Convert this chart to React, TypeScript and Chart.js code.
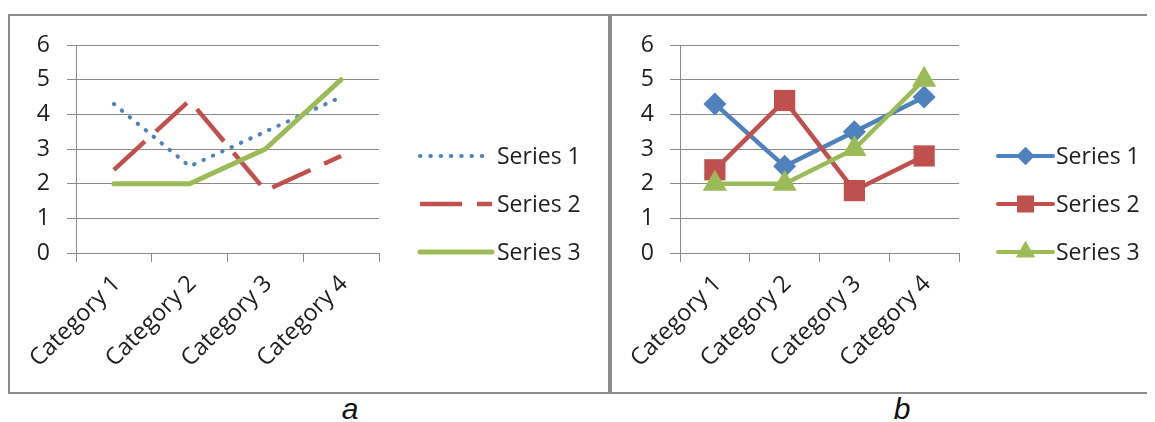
import React, { useEffect, useRef } from 'react';
import { Chart, registerables } from 'chart.js';
import { drawPoint } from 'chart.js/helpers';

Chart.register(...registerables);

// ---- data ----
const categories = ['Category 1', 'Category 2', 'Category 3', 'Category 4'];
const seriesNames = ['Series 1', 'Series 2', 'Series 3'];
const series1 = [4.3, 2.5, 3.5, 4.5];
const series2 = [2.4, 4.4, 1.8, 2.8];
const series3 = [2, 2, 3, 5];
const yTicks = [0, 1, 2, 3, 4, 5, 6];
const panelLabels = ['a', 'b'];

// ---- styles ----
const FONT = '"Open Sans", sans-serif';
const GRID = '#8a8a8a';
const TEXT = '#1e1e1e';
const BLUE = '#4F81BD';
const RED = '#C0504D';
const GREEN = '#9BBB59';
const FRAME = '#8c8c8c';

const legendPlugin = {
  id: 'customLegend',
  afterDraw(chart: any, _args: any, opts: any) {
    const { ctx, chartArea } = chart;
    const x0 = chartArea.right + opts.offsetX;
    const fontSize = opts.fontSize;
    chart.data.datasets.forEach((ds: any, i: number) => {
      const y = chart.height / 2 + (i - 1) * opts.spacing;
      ctx.save();
      ctx.strokeStyle = ds.borderColor;
      ctx.lineWidth = opts.lineWidth ?? ds.borderWidth;
      ctx.setLineDash(ds.borderDash || []);
      ctx.lineCap = ds.borderCapStyle || 'butt';
      ctx.beginPath();
      ctx.moveTo(x0, y);
      ctx.lineTo(x0 + opts.lineLen, y);
      ctx.stroke();
      ctx.setLineDash([]);
      if (opts.markers && ds.pointStyle) {
        ctx.fillStyle = ds.pointBackgroundColor;
        drawPoint(ctx, { pointStyle: ds.pointStyle, radius: ds.pointRadius * opts.markerScale, rotation: 0, borderWidth: 0 } as any, x0 + opts.lineLen / 2, y);
      }
      ctx.fillStyle = TEXT;
      ctx.font = `${fontSize}px ${FONT}`;
      ctx.textAlign = 'left';
      ctx.textBaseline = 'alphabetic';
      ctx.fillText(ds.label, x0 + opts.lineLen + opts.textGap, y + fontSize * 0.357);
      ctx.restore();
    });
  },
};

type PanelCfg = {
  width: number;
  height: number;
  chartLeft: number;
  chartRight: number;
  chartTop: number;
  chartBottom: number;
  yTickLen: number;
  yPad: number;
  legend: any;
  datasets: any[];
};

function buildConfig(p: PanelCfg): any {
  return {
    type: 'line',
    data: { labels: categories, datasets: p.datasets },
    options: {
      responsive: false,
      animation: false,
      events: [],
      layout: { padding: { left: 0, top: p.chartTop, right: p.width - p.chartRight, bottom: 0 } },
      plugins: {
        legend: { display: false },
        tooltip: { enabled: false },
        customLegend: p.legend,
      },
      elements: { line: { tension: 0 } },
      scales: {
        x: {
          offset: true,
          grid: { offset: true, drawOnChartArea: false, drawTicks: true, tickLength: 9, color: GRID, lineWidth: 1 },
          border: { display: true, color: GRID, width: 1 },
          ticks: {
            autoSkip: false,
            minRotation: 45,
            maxRotation: 45,
            padding: 8,
            labelOffset: 3,
            color: TEXT,
            font: { family: FONT, size: 23.5 },
          },
          afterFit(s: any) {
            s.height = p.height - p.chartBottom;
            s.paddingLeft = 0;
            s.paddingRight = 0;
          },
        },
        y: {
          min: yTicks[0],
          max: yTicks[yTicks.length - 1],
          grid: { color: GRID, lineWidth: 1, drawTicks: true, tickLength: p.yTickLen },
          border: { display: true, color: GRID, width: 1 },
          ticks: {
            stepSize: yTicks[1] - yTicks[0],
            padding: p.yPad,
            color: TEXT,
            font: { family: FONT, size: 23 },
          },
          afterFit(s: any) {
            s.width = p.chartLeft;
            s.paddingTop = 0;
            s.paddingBottom = 0;
          },
        },
      },
    },
    plugins: [legendPlugin],
  };
}

function ChartCanvas({ cfg }: { cfg: PanelCfg }) {
  const ref = useRef<HTMLCanvasElement | null>(null);
  useEffect(() => {
    if (!ref.current) return;
    const chart = new Chart(ref.current, buildConfig(cfg));
    return () => chart.destroy();
  }, []);
  return <canvas ref={ref} width={cfg.width} height={cfg.height} style={{ display: 'block', width: cfg.width, height: cfg.height }} />;
}

const panelA: PanelCfg = {
  width: 598,
  height: 376,
  chartLeft: 66,
  chartRight: 369,
  chartTop: 29,
  chartBottom: 237,
  yTickLen: 9,
  yPad: 17,
  legend: { offsetX: 41, lineLen: 72, textGap: 5, spacing: 48, fontSize: 23, markers: false },
  datasets: [
    {
      label: seriesNames[0], data: series1, borderColor: BLUE, borderWidth: 4,
      borderDash: [0.5, 9.8], borderCapStyle: 'round', pointRadius: 0, clip: false, order: 3,
    },
    {
      label: seriesNames[1], data: series2, borderColor: RED, borderWidth: 4.5,
      borderDash: [42, 15], borderCapStyle: 'butt', pointRadius: 0, clip: false, order: 2,
    },
    {
      label: seriesNames[2], data: series3, borderColor: GREEN, borderWidth: 5,
      borderCapStyle: 'round', borderJoinStyle: 'round', pointRadius: 0, clip: false, order: 1,
    },
  ],
};

const panelB: PanelCfg = {
  width: 535,
  height: 376,
  chartLeft: 68,
  chartRight: 347,
  chartTop: 29,
  chartBottom: 237,
  yTickLen: 10,
  yPad: 16,
  legend: { offsetX: 39, lineLen: 55, textGap: 3, spacing: 48, fontSize: 23, markers: true, markerScale: 0.8, lineWidth: 4 },
  datasets: [
    {
      label: seriesNames[0], data: series1, borderColor: BLUE, borderWidth: 4.5, borderCapStyle: 'round', borderJoinStyle: 'round',
      pointStyle: 'rectRot', pointRadius: 11.5, pointBackgroundColor: BLUE, pointBorderWidth: 0, clip: false, order: 3,
    },
    {
      label: seriesNames[1], data: series2, borderColor: RED, borderWidth: 4.5, borderCapStyle: 'round', borderJoinStyle: 'round',
      pointStyle: 'rect', pointRadius: 15, pointBackgroundColor: RED, pointBorderWidth: 0, clip: false, order: 2,
    },
    {
      label: seriesNames[2], data: series3, borderColor: GREEN, borderWidth: 4.5, borderCapStyle: 'round', borderJoinStyle: 'round',
      pointStyle: 'triangle', pointRadius: 14, pointBackgroundColor: GREEN, pointBorderWidth: 0, clip: false, order: 1,
    },
  ],
};

const labelStyle: React.CSSProperties = {
  position: 'absolute',
  top: 388,
  fontFamily: '"Liberation Sans", Arial, sans-serif',
  fontStyle: 'italic',
  fontSize: 30,
  lineHeight: '26px',
  color: '#111',
  transform: 'translateX(-50%)',
};

export default function App() {
  return (
    <div style={{ position: 'relative', width: 1139, height: 414 }}>
      <div style={{ position: 'absolute', left: 0, top: 6, width: 598, height: 376, border: `2px solid ${FRAME}` }}>
        <ChartCanvas cfg={panelA} />
      </div>
      <div style={{ position: 'absolute', left: 602, top: 6, width: 535, height: 376, borderTop: `2px solid ${FRAME}`, borderBottom: `2px solid ${FRAME}`, borderLeft: `2px solid ${FRAME}` }}>
        <ChartCanvas cfg={panelB} />
      </div>
      <div style={{ ...labelStyle, left: 342 }}>{panelLabels[0]}</div>
      <div style={{ ...labelStyle, left: 894 }}>{panelLabels[1]}</div>
    </div>
  );
}
